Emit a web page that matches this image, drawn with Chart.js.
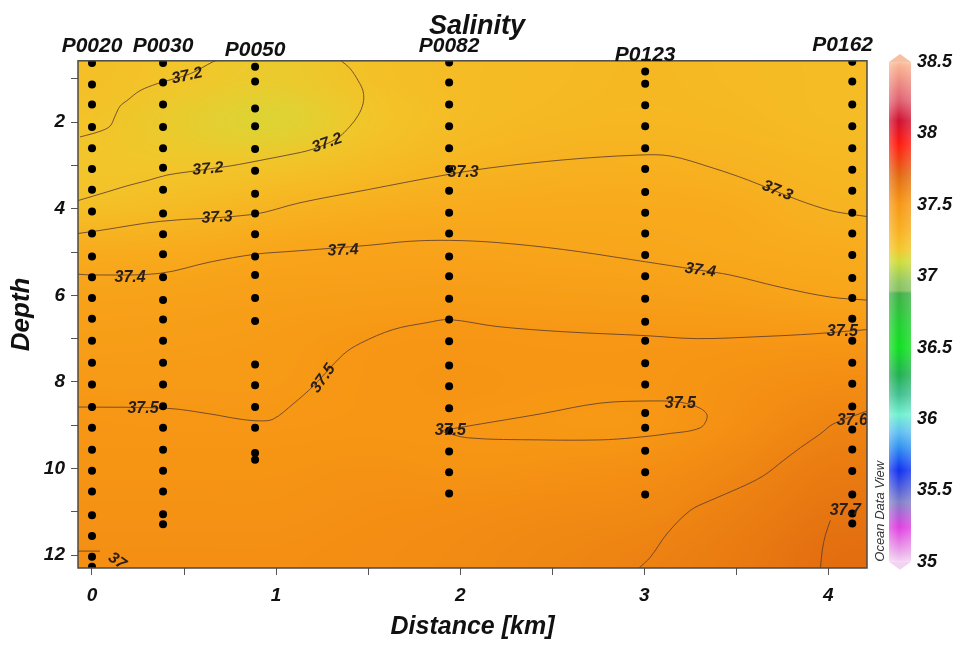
<!DOCTYPE html>
<html>
<head>
<meta charset="utf-8">
<script src="https://cdn.jsdelivr.net/npm/chart.js@4.4.1/dist/chart.umd.min.js"></script>
<style>
  html, body { margin: 0; padding: 0; background: #fff; }
  #wrap { width: 954px; height: 647px; }
</style>
</head>
<body>
<div id="wrap"><canvas id="salChart" width="954" height="647"></canvas></div>
<script>
// ---- data ----
const stationNames = ['P0020', 'P0030', 'P0050', 'P0082', 'P0123', 'P0162'];
const stationDist = [0, 0.386, 0.886, 1.94, 3.005, 4.13];

const depthP0020 = [0.63, 1.13, 1.59, 2.11, 2.6, 3.08, 3.56, 4.06, 4.57, 5.1, 5.58, 6.06, 6.54, 7.05, 7.56, 8.06, 8.58, 9.06, 9.57, 10.05, 10.53, 11.08, 11.56, 12.04, 12.27];
const depthP0030 = [0.63, 1.08, 1.59, 2.11, 2.6, 3.05, 3.56, 4.11, 4.59, 5.05, 5.58, 6.11, 6.56, 7.05, 7.56, 8.06, 8.56, 9.06, 9.57, 10.05, 10.53, 11.06, 11.29];
const depthP0050 = [0.72, 1.06, 1.68, 2.09, 2.62, 3.12, 3.65, 4.11, 4.59, 5.1, 5.53, 6.06, 6.59, 7.6, 8.08, 8.58, 9.06, 9.64, 9.8];
const depthP0082 = [0.62, 1.08, 1.59, 2.09, 2.6, 3.08, 3.58, 4.09, 4.57, 5.1, 5.56, 6.08, 6.56, 7.06, 7.62, 8.1, 8.61, 9.13, 9.61, 10.09, 10.58];
const depthP0123 = [0.83, 1.11, 1.61, 2.09, 2.6, 3.08, 3.61, 4.09, 4.57, 5.07, 5.56, 6.08, 6.61, 7.05, 7.57, 8.06, 8.72, 9.06, 9.59, 10.09, 10.6];
const depthP0162 = [0.6, 1.06, 1.59, 2.09, 2.6, 3.1, 3.58, 4.09, 4.57, 5.07, 5.6, 6.06, 6.54, 7.05, 7.56, 8.04, 8.57, 9.1, 9.56, 10.06, 10.6, 11.04, 11.27];
const stationDepths = [depthP0020, depthP0030, depthP0050, depthP0082, depthP0123, depthP0162];

// gridded salinity (rows = depth, cols = distance)
const gridDist = [0, 0.5, 1, 1.5, 2, 2.5, 3, 3.5, 4];
const gridDepth = [1, 2, 3, 4, 5, 6, 7, 8, 9, 10, 11, 12];
const salGrid = [
  [37.23, 37.19, 37.17, 37.22, 37.25, 37.26, 37.27, 37.26, 37.25],
  [37.21, 37.16, 37.13, 37.19, 37.25, 37.27, 37.28, 37.27, 37.25],
  [37.19, 37.19, 37.20, 37.25, 37.29, 37.31, 37.32, 37.30, 37.28],
  [37.23, 37.26, 37.30, 37.33, 37.35, 37.36, 37.36, 37.35, 37.30],
  [37.35, 37.36, 37.40, 37.41, 37.41, 37.40, 37.39, 37.37, 37.35],
  [37.42, 37.43, 37.44, 37.45, 37.46, 37.45, 37.44, 37.43, 37.40],
  [37.45, 37.46, 37.47, 37.50, 37.51, 37.50, 37.50, 37.50, 37.50],
  [37.48, 37.48, 37.48, 37.51, 37.52, 37.51, 37.51, 37.53, 37.55],
  [37.51, 37.50, 37.50, 37.51, 37.50, 37.49, 37.49, 37.54, 37.59],
  [37.52, 37.52, 37.52, 37.53, 37.52, 37.53, 37.54, 37.58, 37.63],
  [37.53, 37.53, 37.53, 37.54, 37.55, 37.56, 37.57, 37.61, 37.66],
  [37.54, 37.54, 37.54, 37.55, 37.56, 37.58, 37.60, 37.63, 37.69]
];

// contour lines [distance, depth]
const c372a = [[-0.065, 2.34], [0.043, 2.21], [0.098, 2.09], [0.125, 1.86], [0.152, 1.63], [0.19, 1.5], [0.261, 1.27], [0.353, 1.11], [0.408, 1.04], [0.533, 0.88], [0.658, 0.6], [0.685, 0.56]];
const c372b = [[1.348, 0.56], [1.402, 0.76], [1.446, 1.04], [1.473, 1.29], [1.473, 1.56], [1.446, 1.84], [1.402, 2.09], [1.332, 2.37], [1.201, 2.62], [1.06, 2.76], [0.951, 2.85], [0.842, 2.94], [0.75, 3.01], [0.516, 3.15], [0.408, 3.22], [0.299, 3.35], [0.19, 3.47], [0.082, 3.61], [-0.076, 3.81]];
const c373 = [[-0.076, 4.57], [0.043, 4.5], [0.37, 4.29], [0.875, 4.13], [1.13, 3.86], [1.495, 3.56], [1.891, 3.24], [2.152, 3.06], [2.56, 2.87], [2.962, 2.76], [3.141, 2.78], [3.375, 3.06], [3.56, 3.33], [3.832, 3.79], [4.011, 4.04], [4.13, 4.13], [4.212, 4.18]];
const c374 = [[-0.076, 5.51], [0.005, 5.53], [0.37, 5.49], [0.641, 5.23], [0.886, 5.05], [1.092, 4.98], [1.511, 4.84], [1.728, 4.75], [1.946, 4.73], [2.201, 4.78], [2.56, 4.94], [2.924, 5.17], [3.304, 5.42], [3.467, 5.53], [3.739, 5.81], [4.011, 6.04], [4.212, 6.11]];
const c375 = [[-0.076, 8.58], [0.408, 8.61], [0.641, 8.74], [0.804, 8.86], [0.913, 8.9], [0.984, 8.86], [1.092, 8.51], [1.201, 8.1], [1.364, 7.37], [1.457, 7.11], [1.636, 6.79], [1.821, 6.63], [1.94, 6.56], [2.201, 6.72], [2.56, 6.84], [3.005, 6.93], [3.288, 7.0], [3.647, 6.95], [3.918, 6.89], [4.212, 6.79]];
const c375loop = [[1.891, 9.13], [2.071, 9.0], [2.435, 8.74], [2.761, 8.49], [3.049, 8.44], [3.196, 8.47], [3.304, 8.61], [3.342, 8.79], [3.304, 9.06], [3.125, 9.2], [2.94, 9.29], [2.761, 9.34], [2.435, 9.34], [2.038, 9.29], [1.891, 9.13]];
const c376 = [[2.967, 12.32], [3.033, 12.05], [3.125, 11.5], [3.25, 10.97], [3.359, 10.74], [3.522, 10.44], [3.647, 10.17], [3.755, 9.82], [3.848, 9.52], [3.957, 9.2], [4.027, 8.97], [4.212, 8.67]];
const c377 = [[3.957, 12.32], [3.967, 11.89], [3.984, 11.54], [4.011, 11.2]];
const c370 = [[-0.076, 11.91], [0.043, 11.91]];
const contourLines = [c372a, c372b, c373, c374, c375, c375loop, c376, c377, c370];

// contour labels: text, distance, depth, angle
const contourLabels = [
  ['37.2', 0.516, 0.93, -12], ['37.2', 1.277, 2.48, -20], ['37.2', 0.63, 3.08, -5],
  ['37.3', 0.679, 4.2, -3], ['37.3', 2.016, 3.17, 0], ['37.3', 3.723, 3.58, 22],
  ['37.4', 0.207, 5.58, 0], ['37.4', 1.364, 4.96, -3], ['37.4', 3.304, 5.42, 8],
  ['37.5', 0.277, 8.61, 0], ['37.5', 1.255, 7.92, -55], ['37.5', 4.076, 6.84, 0],
  ['37.5', 1.946, 9.13, 0], ['37.5', 3.196, 8.51, 0],
  ['37.6', 4.13, 8.9, 0], ['37.7', 4.092, 10.97, 0], ['37', 0.136, 12.14, 35]
];

// axes
const distTicks = [0, 0.5, 1, 1.5, 2, 2.5, 3, 3.5, 4];
const distLabels = [0, 1, 2, 3, 4];
const depthTicks = [1, 2, 3, 4, 5, 6, 7, 8, 9, 10, 11, 12];
const depthLabels = [2, 4, 6, 8, 10, 12];
const colorTicks = [35, 35.5, 36, 36.5, 37, 37.5, 38, 38.5];

// ODV-like palette
const palette = [
  [35.0, '#f2d4f2'], [35.08, '#e8a0e8'], [35.24, '#e040e0'], [35.42, '#8080c8'],
  [35.64, '#1030f0'], [35.8, '#3090f0'], [35.91, '#60c0f0'], [36.03, '#70f0d0'],
  [36.17, '#40c090'], [36.31, '#20b050'], [36.5, '#10e020'], [36.66, '#20d030'],
  [36.88, '#40b048'], [36.9, '#88c060'], [36.96, '#90c860'], [37.1, '#cfdc3a'],
  [37.19, '#f2c62a'], [37.33, '#f8ae1e'], [37.51, '#f79614'], [37.7, '#e26c10'],
  [37.93, '#ff1a10'], [38.09, '#d01030'], [38.23, '#e06070'], [38.47, '#f8b090'],
  [38.5, '#f8c0a0']
];

function hexRgb(h) {
  return [parseInt(h.slice(1, 3), 16), parseInt(h.slice(3, 5), 16), parseInt(h.slice(5, 7), 16)];
}
function colorAt(v) {
  if (v <= palette[0][0]) return hexRgb(palette[0][1]);
  for (let i = 1; i < palette.length; i++) {
    if (v <= palette[i][0]) {
      const t = (v - palette[i - 1][0]) / (palette[i][0] - palette[i - 1][0]);
      const a = hexRgb(palette[i - 1][1]), b = hexRgb(palette[i][1]);
      return a.map((c, k) => Math.round(c + (b[k] - c) * t));
    }
  }
  return hexRgb(palette[palette.length - 1][1]);
}

const FONT = "'Liberation Sans', Arial, sans-serif";
Chart.defaults.font.family = FONT;

// colour field under the data
const fieldPlugin = {
  id: 'field',
  beforeDatasetsDraw(chart) {
    const { ctx, chartArea: a, scales: { x, y } } = chart;
    const off = document.createElement('canvas');
    off.width = gridDist.length;
    off.height = gridDepth.length;
    const octx = off.getContext('2d');
    const img = octx.createImageData(off.width, off.height);
    salGrid.forEach((row, j) => row.forEach((v, i) => {
      const c = colorAt(v);
      const k = (j * off.width + i) * 4;
      img.data[k] = c[0]; img.data[k + 1] = c[1]; img.data[k + 2] = c[2]; img.data[k + 3] = 255;
    }));
    octx.putImageData(img, 0, 0);
    const dx = x.getPixelForValue(gridDist[1]) - x.getPixelForValue(gridDist[0]);
    const dy = y.getPixelForValue(gridDepth[1]) - y.getPixelForValue(gridDepth[0]);
    ctx.save();
    ctx.beginPath();
    ctx.rect(a.left, a.top, a.right - a.left, a.bottom - a.top);
    ctx.clip();
    ctx.imageSmoothingEnabled = true;
    ctx.imageSmoothingQuality = 'high';
    ctx.drawImage(off, x.getPixelForValue(gridDist[0]) - dx / 2, y.getPixelForValue(gridDepth[0]) - dy / 2,
      dx * off.width, dy * off.height);
    ctx.restore();
  }
};

// labels, frame, station names, colour bar
const overlayPlugin = {
  id: 'overlay',
  afterDatasetsDraw(chart) {
    const { ctx, chartArea: a, scales: { x, y, cb } } = chart;
    ctx.save();
    ctx.beginPath();
    ctx.rect(a.left, a.top, a.right - a.left, a.bottom - a.top);
    ctx.clip();
    ctx.font = 'italic bold 16px ' + FONT;
    ctx.fillStyle = '#2a1e18';
    ctx.textAlign = 'center';
    ctx.textBaseline = 'middle';
    contourLabels.forEach(([t, d, z, r]) => {
      ctx.save();
      ctx.translate(x.getPixelForValue(d), y.getPixelForValue(z));
      ctx.rotate(r * Math.PI / 180);
      ctx.fillText(t, 0, 0);
      ctx.restore();
    });
    ctx.restore();

    ctx.save();
    ctx.strokeStyle = '#4a4a4a';
    ctx.lineWidth = 1.5;
    ctx.strokeRect(a.left, a.top, a.right - a.left, a.bottom - a.top);

    // station names above first sample
    ctx.font = 'italic bold 21px ' + FONT;
    ctx.fillStyle = '#111';
    ctx.textAlign = 'center';
    ctx.textBaseline = 'alphabetic';
    stationNames.forEach((n, i) => {
      const w = ctx.measureText(n).width;
      let px = x.getPixelForValue(stationDist[i]);
      px = Math.min(px, a.right + 6 - w / 2);
      ctx.fillText(n, px, y.getPixelForValue(stationDepths[i][0]) - 11);
    });

    // colour bar
    const bl = cb.left + 22, bw = 22;
    const yLo = cb.getPixelForValue(colorTicks[0]);
    const yHi = cb.getPixelForValue(colorTicks[colorTicks.length - 1]);
    const g = ctx.createLinearGradient(0, yLo, 0, yHi);
    const span = colorTicks[colorTicks.length - 1] - colorTicks[0];
    palette.forEach(([v, c]) => g.addColorStop((v - colorTicks[0]) / span, c));
    ctx.fillStyle = g;
    ctx.fillRect(bl, yHi, bw, yLo - yHi);
    ctx.fillStyle = palette[palette.length - 1][1];
    ctx.beginPath();
    ctx.moveTo(bl, yHi); ctx.lineTo(bl + bw / 2, yHi - 8); ctx.lineTo(bl + bw, yHi); ctx.closePath();
    ctx.fill();
    ctx.fillStyle = palette[0][1];
    ctx.beginPath();
    ctx.moveTo(bl, yLo); ctx.lineTo(bl + bw / 2, yLo + 8); ctx.lineTo(bl + bw, yLo); ctx.closePath();
    ctx.fill();
    const sh = ctx.createLinearGradient(bl, 0, bl + bw, 0);
    sh.addColorStop(0, 'rgba(255,255,255,0.28)');
    sh.addColorStop(0.45, 'rgba(255,255,255,0)');
    sh.addColorStop(1, 'rgba(255,255,255,0.18)');
    ctx.fillStyle = sh;
    ctx.fillRect(bl, yHi, bw, yLo - yHi);

    ctx.translate(cb.left + 13, yLo);
    ctx.rotate(-Math.PI / 2);
    ctx.font = 'italic 13px ' + FONT;
    ctx.fillStyle = '#333';
    ctx.textAlign = 'left';
    ctx.textBaseline = 'middle';
    ctx.fillText('Ocean Data View', 0, 0);
    ctx.restore();
  }
};

const pts = arr => arr.map(p => ({ x: p[0], y: p[1] }));

const datasets = [];
stationNames.forEach((n, i) => {
  datasets.push({
    label: n,
    data: stationDepths[i].map(d => ({ x: stationDist[i], y: d })),
    pointRadius: 4,
    pointBackgroundColor: '#000',
    pointBorderWidth: 0,
    showLine: false,
    clip: 0,
    order: 1
  });
});
contourLines.forEach((c, i) => {
  datasets.push({
    label: 'contour' + i,
    data: pts(c),
    showLine: true,
    pointRadius: 0,
    borderColor: 'rgba(95,62,48,0.85)',
    borderWidth: 1,
    tension: 0.35,
    clip: 0,
    order: 2
  });
});

const axisFont = { family: FONT, size: 19, weight: 'bold', style: 'italic' };

new Chart(document.getElementById('salChart'), {
  type: 'scatter',
  data: { datasets },
  plugins: [fieldPlugin, overlayPlugin],
  options: {
    responsive: false,
    animation: false,
    events: [],
    layout: { padding: 0 },
    plugins: {
      legend: { display: false },
      tooltip: { enabled: false },
      title: {
        display: true,
        text: 'Salinity',
        color: '#111',
        font: { family: FONT, size: 27, weight: 'bold', style: 'italic' },
        padding: { top: 6, bottom: 18 }
      }
    },
    scales: {
      x: {
        type: 'linear',
        min: -0.076,
        max: 4.21,
        afterBuildTicks: s => { s.ticks = distTicks.map(v => ({ value: v })); },
        afterFit: s => { s.height = 79; },
        ticks: {
          autoSkip: false,
          maxRotation: 0,
          padding: 9,
          color: '#111',
          font: axisFont,
          callback: v => distLabels.includes(v) ? String(v) : ''
        },
        grid: { drawOnChartArea: false, drawTicks: true, tickLength: 7, color: '#555' },
        border: { display: false },
        title: {
          display: true,
          text: 'Distance [km]',
          color: '#111',
          font: { family: FONT, size: 25, weight: 'bold', style: 'italic' },
          padding: { top: 0, bottom: 5 }
        }
      },
      y: {
        type: 'linear',
        reverse: true,
        min: 0.58,
        max: 12.3,
        afterBuildTicks: s => { s.ticks = depthTicks.map(v => ({ value: v })); },
        afterFit: s => { s.width = 78; },
        ticks: {
          autoSkip: false,
          padding: 6,
          color: '#111',
          font: axisFont,
          callback: v => depthLabels.includes(v) ? String(v) : ''
        },
        grid: { drawOnChartArea: false, drawTicks: true, tickLength: 7, color: '#555' },
        border: { display: false },
        title: {
          display: true,
          text: 'Depth',
          color: '#111',
          font: { family: FONT, size: 26, weight: 'bold', style: 'italic' },
          padding: { top: 6, bottom: 0 }
        }
      },
      cb: {
        type: 'linear',
        axis: 'y',
        position: 'right',
        min: 34.956,
        max: 38.509,
        afterBuildTicks: s => { s.ticks = colorTicks.map(v => ({ value: v })); },
        afterFit: s => { s.width = 87; },
        ticks: {
          padding: 50,
          color: '#111',
          font: { family: FONT, size: 18, weight: 'bold', style: 'italic' },
          callback: v => String(v)
        },
        grid: { display: false, drawTicks: false },
        border: { display: false }
      }
    }
  }
});
</script>
</body>
</html>
